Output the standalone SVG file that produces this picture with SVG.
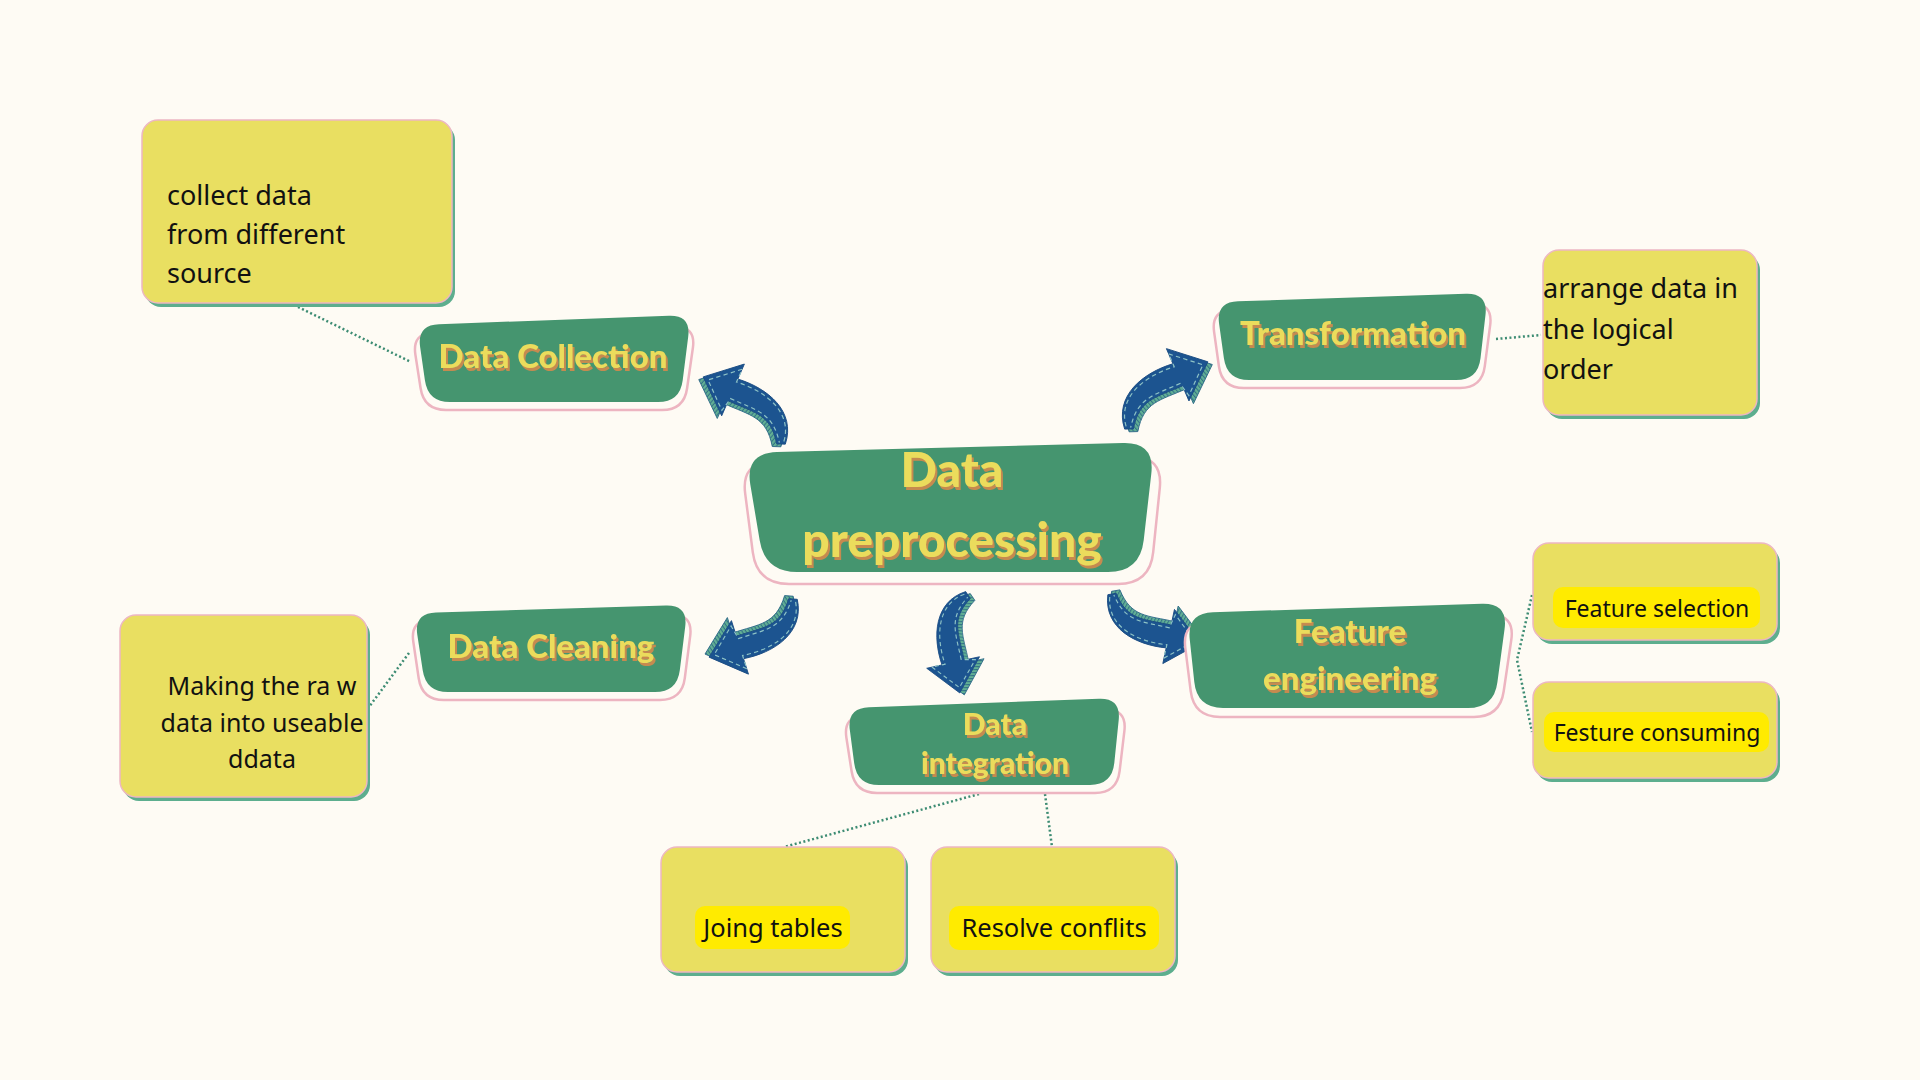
<svg xmlns="http://www.w3.org/2000/svg" xmlns:xlink="http://www.w3.org/1999/xlink" width="1920" height="1080" viewBox="0 0 1920 1080">
<defs>
<style>
.green{fill:#45956F;}
.pink{fill:#FEFBF4;stroke:#EDB5C1;stroke-width:2.5;}
.lbl{font-family:Lato,"Open Sans",sans-serif;font-weight:900;fill:#EBDC5B;text-anchor:middle;filter:url(#ts);}
.note{fill:#E9DF61;stroke:#EDB7C2;stroke-width:1.5;}
.nshadow{fill:#5DAE8E;}
.ntxt{font-family:"Noto Sans","Liberation Sans",sans-serif;font-size:27px;fill:#111;}
.ntxt2{font-family:"Noto Sans","Liberation Sans",sans-serif;font-size:25px;fill:#111;text-anchor:middle;}
.hl{fill:#FFEB00;}
.htxt{font-family:"Noto Sans","Liberation Sans",sans-serif;font-size:23px;fill:#111;text-anchor:middle;}
.htxt2{font-family:"Noto Sans","Liberation Sans",sans-serif;font-size:25.5px;fill:#111;text-anchor:middle;}
.conn{fill:none;stroke:#3D8C73;stroke-width:2.5;stroke-dasharray:2 2.5;}
</style>
<filter id="ts" x="-5%" y="-10%" width="115%" height="135%">
<feOffset in="SourceAlpha" dx="2" dy="2.5" result="o"/>
<feFlood flood-color="#C68A4F"/>
<feComposite in2="o" operator="in" result="s"/>
<feMerge><feMergeNode in="s"/><feMergeNode in="SourceGraphic"/></feMerge>
</filter>
<pattern id="hatch" width="3" height="3" patternUnits="userSpaceOnUse">
<rect width="3" height="3" fill="#62B094"/>
<path d="M0.5,0 L0.5,3" stroke="#2F6C86" stroke-width="0.9"/>
</pattern>
<g id="arrow">
<path d="M -3.1,-2.5 C 9,-32 43,-31 69.2,-19.5 L 73.6,-33.9 L 94.7,-0.2 L 58.4,15.9 L 62.8,1.5 C 37,-6 25,-15 3.1,2.5 Z" transform="translate(1.5,4.5)" fill="url(#hatch)" stroke="#2E6A88" stroke-width="0.8"/>
<path d="M -3.1,-2.5 C 9,-32 43,-31 69.2,-19.5 L 73.6,-33.9 L 94.7,-0.2 L 58.4,15.9 L 62.8,1.5 C 37,-6 25,-15 3.1,2.5 Z" fill="#1C5490" stroke="#1A4C82" stroke-width="0.8"/>
<path d="M -0.5,-3.5 C 11,-29 42,-28 68.3,-16.6 L 72,-29 L 89.5,-1 L 61.5,12 L 62.5,-1.5 C 37,-9 24,-17 2,0" fill="none" stroke="#8EC3C6" stroke-width="1.1" stroke-dasharray="4 3"/>
</g>
</defs>
<rect width="1920" height="1080" fill="#FEFBF4"/>

<g id="connectors">
<path class="conn" d="M298,307 L411,362"/>
<path class="conn" d="M1496,339 L1541,335"/>
<path class="conn" d="M409,653 L369,707"/>
<path class="conn" d="M979,794 L784,847"/>
<path class="conn" d="M1045,794 L1052,847"/>
<path class="conn" d="M1532,595 L1517,660 L1532,732"/>
<use href="#arrow" transform="translate(781,444) rotate(-139.35) scale(1.085,-1.085)"/>
<use href="#arrow" transform="translate(1129,429) rotate(-40.3) scale(1.094)"/>
<use href="#arrow" transform="translate(793,599) rotate(145.4) scale(1.078)"/>
<use href="#arrow" transform="translate(968,595) rotate(94.67) scale(1.038,-1.038)"/>
<use href="#arrow" transform="translate(1112,594) rotate(29.1) scale(1.063,-1.063)"/>
</g>

<g id="node-center">
<path class="pink" d="M773,461.5 L1131,456.5 Q1163,456 1159.8,487.8 L1153.2,552.2 Q1150,584 1118,584 L789,584 Q757,584 752.8,552.3 L745.2,493.7 Q741,462 773,461.5 Z"/>
<path class="green" d="M777,452 L1123,443 Q1155,442 1151.3,473.8 L1143.7,540.2 Q1140,572 1108,572 L797,572 Q765,572 759.7,540.4 L750.3,484.6 Q745,453 777,452 Z"/>
<text class="lbl" font-size="48" x="952" y="487">Data</text>
<text class="lbl" font-size="48" x="952" y="557">preprocessing</text>
</g>

<g id="node-collection">
<path class="pink" d="M434,332.5 L674,326.5 Q696,326 692.9,347.8 L687.1,388.2 Q684,410 662,410 L446,410 Q424,410 420.6,388.3 L415.4,354.7 Q412,333 434,332.5 Z"/>
<path class="green" d="M439,324.2 L669,315.8 Q691,315 688.2,336.8 L682.7,380.2 Q680,402 658,402 L450,402 Q428,402 424.9,380.2 L420.1,346.8 Q417,325 439,324.2 Z"/>
<text class="lbl" font-size="33" x="553" y="368">Data Collection</text>
</g>

<g id="node-transformation">
<path class="pink" d="M1233,309.5 L1471,303.5 Q1493,303 1490.2,324.8 L1484.8,366.2 Q1482,388 1460,388 L1244,388 Q1222,388 1218.9,366.2 L1214.1,331.8 Q1211,310 1233,309.5 Z"/>
<path class="green" d="M1238,301.3 L1466,293.7 Q1488,293 1485.5,314.8 L1480.5,358.2 Q1478,380 1456,380 L1249,380 Q1227,380 1223.9,358.2 L1219.1,323.8 Q1216,302 1238,301.3 Z"/>
<text class="lbl" font-size="33" x="1353" y="345">Transformation</text>
</g>

<g id="node-cleaning">
<path class="pink" d="M432,619.5 L671,614.5 Q693,614 690.2,635.8 L684.8,678.2 Q682,700 660,700 L444,700 Q422,700 418.7,678.2 L413.3,641.8 Q410,620 432,619.5 Z"/>
<path class="green" d="M436,612.4 L666,605.6 Q688,605 685.2,626.8 L679.8,670.2 Q677,692 655,692 L448,692 Q426,692 422.7,670.2 L417.3,634.8 Q414,613 436,612.4 Z"/>
<text class="lbl" font-size="33" x="551" y="658">Data Cleaning</text>
</g>

<g id="node-integration">
<path class="pink" d="M865,715.5 L1105,709.5 Q1127,709 1124.4,730.8 L1119.6,771.2 Q1117,793 1095,793 L877,793 Q855,793 851.6,771.3 L846.4,737.7 Q843,716 865,715.5 Z"/>
<path class="green" d="M869,707.2 L1099,698.8 Q1121,698 1118.7,719.9 L1114.3,763.1 Q1112,785 1090,785 L879,785 Q857,785 854.2,763.2 L849.8,729.8 Q847,708 869,707.2 Z"/>
<text class="lbl" font-size="30" x="995" y="735">Data</text>
<text class="lbl" font-size="30" x="995" y="774">integration</text>
</g>

<g id="node-feature">
<path class="pink" d="M1208,621.4 L1489,614.6 Q1515,614 1511.3,639.7 L1503.7,691.3 Q1500,717 1474,717 L1220,717 Q1194,717 1190.7,691.2 L1185.3,647.8 Q1182,622 1208,621.4 Z"/>
<path class="green" d="M1213,612.2 L1482,603.8 Q1508,603 1504.6,628.8 L1497.4,682.2 Q1494,708 1468,708 L1223,708 Q1197,708 1194.3,682.1 L1189.7,638.9 Q1187,613 1213,612.2 Z"/>
<text class="lbl" font-size="33" x="1350" y="643">Feature</text>
<text class="lbl" font-size="33" x="1350" y="690">engineering</text>
</g>

<g id="note-collect">
<rect class="nshadow" x="145" y="124" width="310" height="183" rx="16"/>
<rect class="note" x="142" y="120" width="310" height="183" rx="16"/>
<text class="ntxt" x="167" y="205">collect data</text>
<text class="ntxt" x="167" y="244">from different</text>
<text class="ntxt" x="167" y="283">source</text>
</g>

<g id="note-arrange">
<rect class="nshadow" x="1546" y="254" width="214" height="165" rx="16"/>
<rect class="note" x="1543" y="250" width="214" height="165" rx="16"/>
<text class="ntxt" x="1543" y="298">arrange data in</text>
<text class="ntxt" x="1543" y="339">the logical</text>
<text class="ntxt" x="1543" y="379">order</text>
</g>

<g id="note-making">
<rect class="nshadow" x="123" y="619" width="247" height="182" rx="16"/>
<rect class="note" x="120" y="615" width="247" height="182" rx="16"/>
<text class="ntxt2" x="262" y="695">Making the ra w</text>
<text class="ntxt2" x="262" y="732">data into useable</text>
<text class="ntxt2" x="262" y="768">ddata</text>
</g>

<g id="note-feature-selection">
<rect class="nshadow" x="1536" y="547" width="244" height="97" rx="16"/>
<rect class="note" x="1533" y="543" width="244" height="97" rx="16"/>
<rect class="hl" x="1553" y="587" width="207" height="41" rx="10"/>
<text class="htxt" x="1657" y="617">Feature selection</text>
</g>

<g id="note-feature-consuming">
<rect class="nshadow" x="1536" y="686" width="244" height="96" rx="16"/>
<rect class="note" x="1533" y="682" width="244" height="96" rx="16"/>
<rect class="hl" x="1544" y="712" width="225" height="40" rx="10"/>
<text class="htxt" x="1657" y="741">Festure consuming</text>
</g>

<g id="note-joining">
<rect class="nshadow" x="664" y="851" width="244" height="125" rx="16"/>
<rect class="note" x="661" y="847" width="244" height="125" rx="16"/>
<rect class="hl" x="695" y="906" width="155" height="43" rx="10"/>
<text class="htxt2" x="773" y="937">Joing tables</text>
</g>

<g id="note-resolve">
<rect class="nshadow" x="934" y="851" width="244" height="125" rx="16"/>
<rect class="note" x="931" y="847" width="244" height="125" rx="16"/>
<rect class="hl" x="949" y="906" width="210" height="44" rx="10"/>
<text class="htxt2" x="1054" y="937">Resolve conflits</text>
</g>
</svg>
